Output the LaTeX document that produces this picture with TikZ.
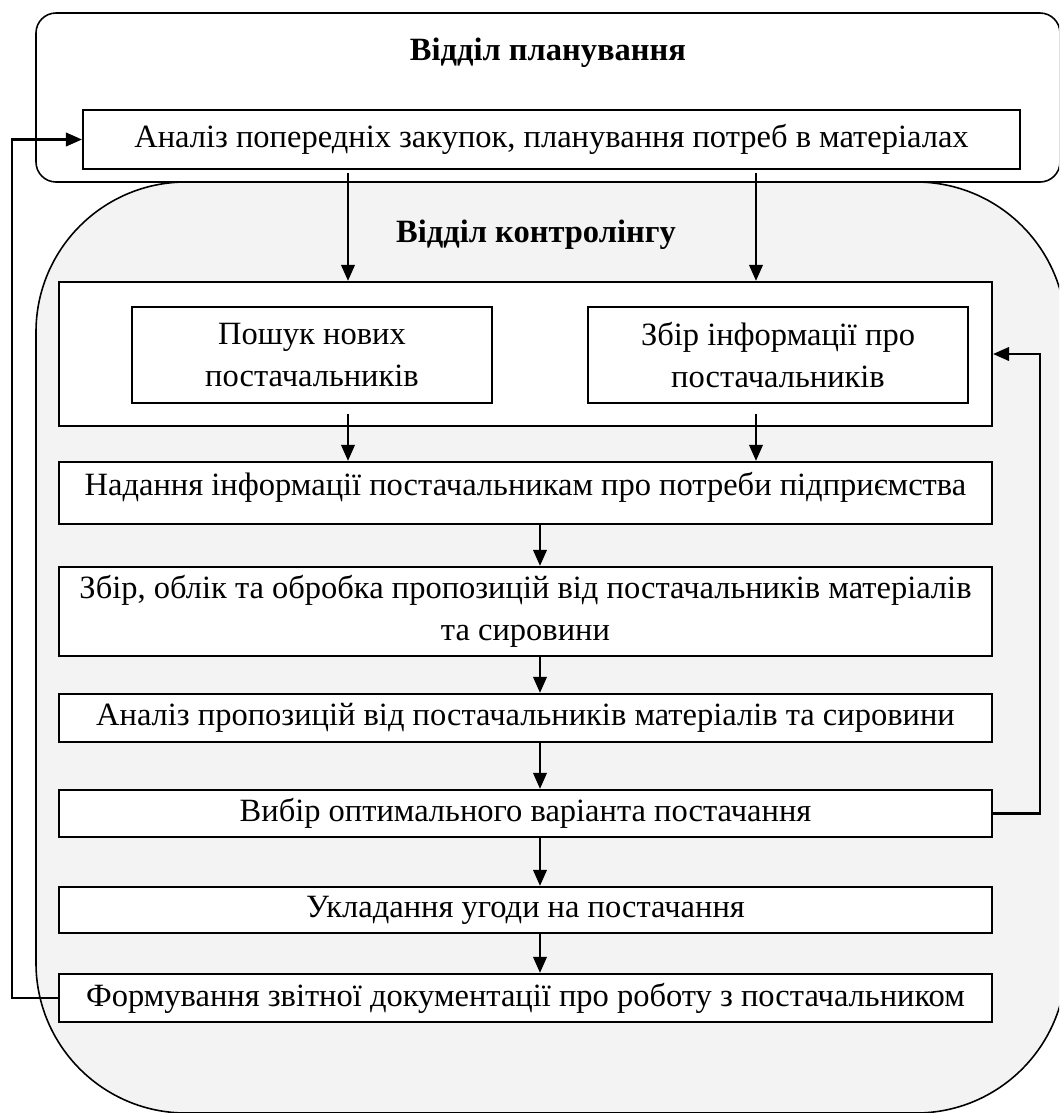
\documentclass[tikz,border=0pt]{standalone}
\usepackage{fontspec}
\setmainfont{Liberation Serif}
\usetikzlibrary{arrows.meta}
\definecolor{ctrlgray}{RGB}{243,243,243}
\begin{document}
\begin{tikzpicture}[x=0.02cm,y=-0.02cm,
  dept/.style={draw,line width=0.9pt},
  title/.style={font=\fontsize{18.5}{22}\selectfont\bfseries},
  stage/.style={draw,line width=1.3pt,fill=white,inner sep=0pt,align=center,minimum width=18.66cm,font=\fontsize{18.5}{24}\selectfont},
  flow/.style={-{Triangle[length=0.32cm,width=0.27cm]},line width=1.3pt}]
\useasboundingbox (0,0) rectangle (1059,1113);
\clip (0,0) rectangle (1059,1113);
\draw[dept,fill=white,rounded corners=0.4cm] (36,13) rectangle (1060,182);
\draw[dept,fill=ctrlgray,rounded corners=3cm] (36,182) rectangle (1066,1113);
\node[title] (plantitle) at (548,53) {Відділ планування};
\node[title] (ctrltitle) at (536,235) {Відділ контролінгу};
\node[stage,minimum width=18.74cm,minimum height=1.18cm] (ana) at (551.5,139.5) {Аналіз попередніх закупок, планування потреб в матеріалах};
\node[stage,minimum height=2.88cm] (grp) at (525.5,354) {};
\node[stage,minimum width=7.2cm,minimum height=1.92cm] (srch) at (312,355) {Пошук нових\\постачальників};
\node[stage,minimum width=7.6cm,minimum height=1.92cm] (coll) at (778,355) {Збір інформації про\\постачальників};
\node[stage,text height=0.66cm,text depth=0.58cm] (inf) at (525.5,493) {Надання інформації постачальникам про потреби підприємства};
\node[stage,minimum height=1.78cm] (prop) at (525.5,611.5) {Збір, облік та обробка пропозицій від постачальників матеріалів\\та сировини};
\node[stage,minimum height=0.96cm] (anal) at (525.5,718) {Аналіз пропозицій від постачальників матеріалів та сировини};
\node[stage,minimum height=0.94cm] (choice) at (525.5,813.5) {Вибір оптимального варіанта постачання};
\node[stage,minimum height=0.92cm] (deal) at (525.5,910) {Укладання угоди на постачання};
\node[stage,minimum height=0.96cm] (rep) at (525.5,998) {Формування звітної документації про роботу з постачальником};
\coordinate (xl) at (348,0);
\coordinate (xr) at (756,0);
\coordinate (xm) at (540,0);
\coordinate (xe) at (1040,0);
\coordinate (xw) at (12,0);
\draw[flow] ([yshift=-0.05cm]ana.south -| xl) -- (grp.north -| xl);
\draw[flow] ([yshift=-0.05cm]ana.south -| xr) -- (grp.north -| xr);
\draw[flow] ([yshift=-0.2cm]srch.south -| xl) -- (inf.north -| xl);
\draw[flow] ([yshift=-0.2cm]coll.south -| xr) -- (inf.north -| xr);
\draw[flow] (inf.south -| xm) -- (prop.north -| xm);
\draw[flow] (prop.south -| xm) -- (anal.north -| xm);
\draw[flow] (anal.south -| xm) -- (choice.north -| xm);
\draw[flow] (choice.south -| xm) -- (deal.north -| xm);
\draw[flow] (deal.south -| xm) -- (rep.north -| xm);
\draw[flow] (choice.east) -- (choice.east -| xe) |- (grp.east);
\draw[flow] (rep.west) -- (rep.west -| xw) |- (ana.west);
\end{tikzpicture}
\end{document}
